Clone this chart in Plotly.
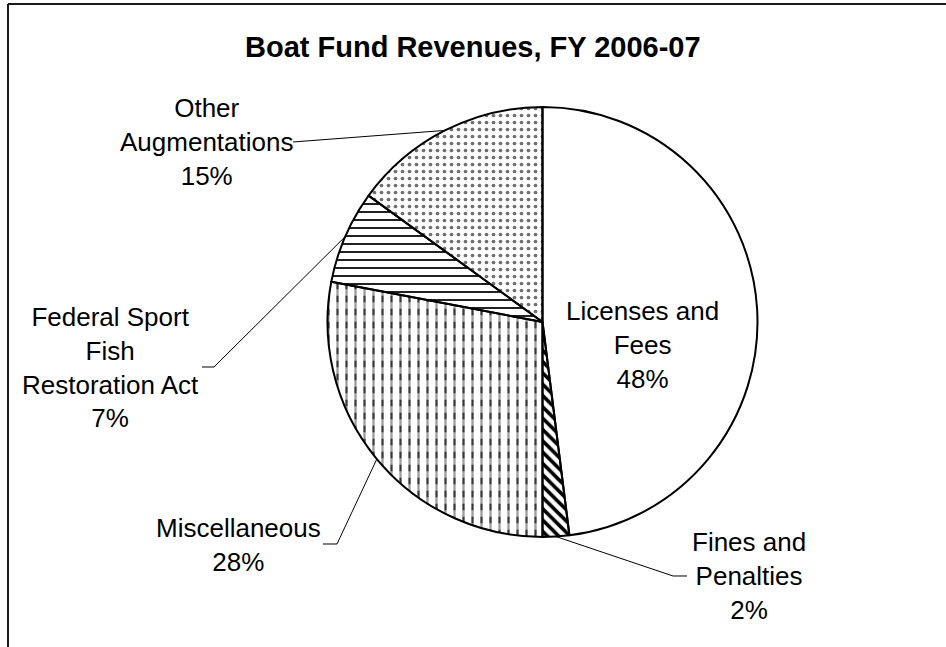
import math
import plotly.graph_objects as go

# Boat Fund revenue shares, FY 2006-07 (percent), clockwise from 12 o'clock
categories = ["Licenses and Fees", "Fines and Penalties", "Miscellaneous",
              "Federal Sport Fish Restoration Act", "Other Augmentations"]
shares = [48, 2, 28, 7, 15]
label_lines = [["Licenses and", "Fees"], ["Fines and", "Penalties"], ["Miscellaneous"],
               ["Federal Sport", "Fish", "Restoration Act"], ["Other", "Augmentations"]]

W, H = 946, 647
FONT = "Liberation Sans, Arial, sans-serif"


def px(x, y):
    """Pixel position -> paper coordinates."""
    return x / W, 1 - y / H


# pie placement (pixels)
CX, CY, R = 542.5, 322.0, 215.0
dom_x = [(CX - R) / W, (CX + R) / W]
dom_y = [1 - (CY + R) / H, 1 - (CY - R) / H]

clear = "rgba(0,0,0,0)"

fig = go.Figure()

# slice fills and hatch patterns
fig.add_trace(go.Pie(
    labels=categories, values=shares, sort=False, direction="clockwise", rotation=0,
    domain=dict(x=dom_x, y=dom_y), textinfo="none", hoverinfo="label+percent",
    showlegend=False,
    marker=dict(
        colors=["white"] * 5,
        line=dict(color="black", width=0),
        pattern=dict(
            shape=["", "\\", "|", "-", "."],
            fgcolor=["black", "black", "#3a3a3a", "#222222", "#707070"],
            bgcolor=["white"] * 5,
            size=[8, 8, 9, 8, 7],
            solidity=[0.3, 0.45, 0.26, 0.25, 0.22],
        ),
    ),
))

# white horizontal breaks turn the vertical lines of Miscellaneous into dashes
fig.add_trace(go.Pie(
    labels=categories, values=shares, sort=False, direction="clockwise", rotation=0,
    domain=dict(x=dom_x, y=dom_y), textinfo="none", hoverinfo="skip",
    showlegend=False,
    marker=dict(
        colors=[clear] * 5,
        line=dict(width=0),
        pattern=dict(
            shape=["", "", "-", "", ""],
            fgcolor="white",
            bgcolor=clear,
            fillmode="overlay",
            size=13,
            solidity=0.5,
        ),
    ),
))

# slice outlines
fig.add_trace(go.Pie(
    labels=categories, values=shares, sort=False, direction="clockwise", rotation=0,
    domain=dict(x=dom_x, y=dom_y), textinfo="none", hoverinfo="skip",
    showlegend=False,
    marker=dict(colors=[clear] * 5, line=dict(color="black", width=2)),
))

# label blocks (pixel centre) and leader-line start / elbow (pixels)
label_pos = [(642, 345), (749, 576), (239, 545), (110, 367), (206, 142)]
leader_start = [None, [(687, 576), (673, 576)], [(323, 544), (337, 544)],
                [(202, 367), (214, 367)], [(293, 142)]]

annotations = []
shapes = []
total = sum(shares)
cum = 0.0
for name_lines, v, pos, lead in zip(label_lines, shares, label_pos, leader_start):
    mid = (cum + v / 2) / total * 2 * math.pi
    cum += v
    text = "<br>".join(name_lines + [f"{v}%"])
    lx, ly = px(*pos)
    annotations.append(dict(
        x=lx, y=ly, xref="paper", yref="paper", text=text, showarrow=False,
        xanchor="center", yanchor="middle", align="center",
        font=dict(family=FONT, size=26, color="black"),
    ))
    if lead:
        # point on the rim at the middle of the slice
        ex = CX + R * math.sin(mid)
        ey = CY - R * math.cos(mid)
        pts = [px(x, y) for x, y in lead] + [px(ex, ey)]
        path = "M " + " L ".join(f"{a:.5f},{b:.5f}" for a, b in pts)
        shapes.append(dict(type="path", path=path, xref="paper", yref="paper",
                           line=dict(color="black", width=1)))

# title
tx, ty = px(473, 47)
annotations.append(dict(
    x=tx, y=ty, xref="paper", yref="paper", showarrow=False,
    text="<b>Boat Fund Revenues, FY 2006-07</b>",
    xanchor="center", yanchor="middle",
    font=dict(family=FONT, size=29, color="black"),
))

# chart frame (top and left edges)
x0, y0 = px(8, 4)
shapes.append(dict(type="line", xref="paper", yref="paper", x0=x0, y0=y0, x1=1.01, y1=y0,
                   line=dict(color="#1a1a1a", width=2)))
shapes.append(dict(type="line", xref="paper", yref="paper", x0=x0, y0=y0, x1=x0, y1=-0.01,
                   line=dict(color="#1a1a1a", width=2)))

fig.update_layout(
    width=W, height=H,
    margin=dict(l=0, r=0, t=0, b=0),
    paper_bgcolor="white", plot_bgcolor="white",
    annotations=annotations, shapes=shapes,
    showlegend=False,
)

fig.write_html("out.html")
